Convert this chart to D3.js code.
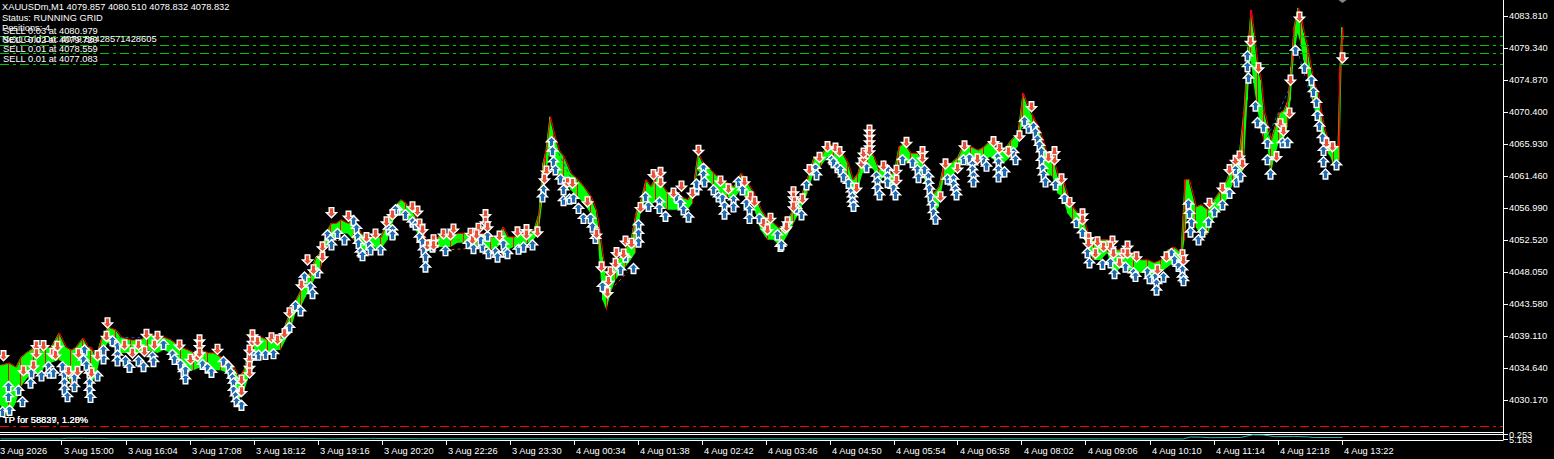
<!DOCTYPE html>
<html>
<head>
<meta charset="utf-8">
<script src="https://cdn.jsdelivr.net/npm/d3@7/dist/d3.min.js"></script>
<style>
body { margin: 0; background: #000; overflow: hidden; }
text { font-family: "Liberation Sans", Arial, sans-serif; font-size: 9.3px; fill: #fff; }
</style>
</head>
<body>
<div class="canvas"></div>
<script>
var width = 1554, height = 459;

// bar index, high, low (M1 bars, sampled)
var candles = [
[0,4035.0,4029.4],[8,4035.3,4027.7],[15,4034.7,4029.7],[20,4036.1,4031.9],[25,4036.7,4032.9],[33,4037.5,4034.3],[40,4037.1,4033.3],[45,4037.5,4035.3],[50,4037.5,4035.3],[58,4039.5,4035.7],
[65,4037.5,4035.3],[70,4037.1,4031.9],[75,4037.5,4034.3],[82,4038.8,4035.3],[87,4037.5,4033.3],[90,4037.5,4032.5],[95,4036.1,4033.3],[100,4038.5,4036.1],[107,4040.3,4038.1],[115,4039.9,4037.5],
[120,4038.9,4036.7],[130,4038.5,4036.7],[140,4038.5,4036.7],[147,4039.5,4037.1],[157,4038.9,4036.7],[163,4038.9,4037.1],[170,4038.5,4036.7],[180,4037.5,4035.3],[187,4037.1,4034.3],[193,4036.7,4034.3],
[200,4037.1,4034.7],[207,4036.7,4034.7],[213,4036.7,4034.3],[220,4036.1,4034.3],[227,4035.7,4033.9],[233,4034.7,4031.5],[238,4033.3,4030.1],[243,4034.3,4031.1],[248,4037.1,4033.3],[253,4038.9,4035.7],
[260,4038.9,4036.7],[267,4038.5,4036.7],[273,4038.5,4037.1],[280,4038.9,4037.1],[285,4040.9,4038.5],[290,4042.7,4039.9],[295,4044.1,4042.3],[300,4045.5,4043.1],[305,4046.9,4044.5],[310,4048.3,4045.9],
[315,4050.1,4047.3],[320,4050.7,4048.3],[325,4053.4,4051.5],[330,4054.8,4052.5],[335,4054.8,4052.9],[340,4055.3,4053.4],[347,4054.8,4053.4],[353,4055.3,4052.5],[360,4053.4,4051.1],[367,4052.9,4051.1],
[373,4052.9,4051.5],[380,4052.9,4051.1],[387,4055.3,4052.5],[393,4057.1,4055.3],[400,4058.1,4056.2],[405,4057.6,4056.2],[410,4056.7,4054.8],[415,4055.7,4053.9],[420,4054.3,4052.5],[425,4052.5,4050.7],
[430,4052.5,4051.1],[437,4052.9,4051.5],[443,4053.4,4051.5],[450,4052.9,4051.5],[457,4053.4,4052.1],[463,4053.4,4052.1],[470,4052.9,4051.5],[477,4053.4,4051.5],[483,4053.4,4051.5],[490,4052.9,4051.1],
[497,4052.9,4051.5],[502,4054.3,4052.1],[507,4052.9,4051.1],[513,4052.9,4051.5],[520,4053.4,4051.5],[527,4053.4,4052.1],[533,4053.9,4052.5],[538,4056.2,4053.4],[542,4063.2,4058.1],[545,4065.0,4060.9],
[549,4069.7,4065.0],[553,4067.4,4062.7],[558,4065.0,4061.8],[563,4064.1,4061.3],[570,4061.8,4059.5],[577,4060.9,4058.5],[583,4059.9,4057.6],[590,4058.5,4056.2],[595,4056.7,4053.9],[598,4054.3,4051.1],
[602,4050.1,4044.1],[606,4046.9,4042.7],[610,4047.9,4045.1],[615,4049.7,4046.9],[620,4050.1,4047.9],[625,4051.5,4048.7],[630,4052.5,4049.7],[635,4056.2,4050.7],[640,4058.1,4056.2],[645,4060.9,4058.1],
[650,4059.9,4057.1],[655,4061.3,4058.1],[660,4060.4,4057.6],[667,4059.0,4056.7],[673,4059.5,4056.7],[680,4058.5,4056.7],[687,4058.1,4056.7],[692,4059.5,4057.6],[697,4064.6,4062.3],[702,4063.2,4061.3],
[707,4062.7,4060.9],[713,4061.8,4059.9],[720,4060.9,4059.0],[727,4060.4,4058.5],[733,4059.9,4058.1],[740,4061.8,4059.5],[747,4060.4,4058.1],[753,4059.0,4057.1],[760,4056.7,4053.9],[767,4055.3,4052.5],
[773,4054.8,4052.5],[780,4053.9,4051.5],[787,4055.3,4053.2],[793,4057.1,4054.8],[800,4058.5,4056.7],[807,4061.3,4059.0],[813,4064.1,4061.8],[820,4064.1,4062.7],[827,4066.0,4064.1],[833,4065.5,4063.6],
[840,4065.0,4063.2],[847,4063.2,4060.9],[852,4060.9,4057.6],[857,4061.8,4059.5],[862,4064.6,4061.8],[867,4065.5,4063.2],[873,4064.1,4062.3],[878,4062.3,4060.4],[883,4063.6,4061.3],[888,4061.8,4059.9],
[893,4061.8,4059.9],[898,4065.5,4063.2],[903,4066.0,4063.6],[910,4064.6,4063.2],[917,4064.6,4062.7],[923,4063.2,4061.3],[928,4060.9,4059.0],[933,4059.0,4056.2],[938,4059.9,4057.1],[943,4063.2,4060.9],
[950,4063.2,4061.3],[957,4064.1,4062.3],[963,4066.0,4063.6],[970,4065.5,4063.6],[977,4065.0,4063.2],[983,4065.5,4063.6],[990,4066.4,4064.1],[997,4065.0,4063.2],[1003,4065.0,4063.2],[1010,4066.4,4064.1],
[1017,4067.4,4065.5],[1022,4073.0,4068.8],[1027,4071.1,4068.8],[1032,4069.7,4067.8],[1037,4068.3,4066.0],[1042,4066.4,4064.1],[1047,4064.1,4061.8],[1052,4064.1,4061.3],[1057,4061.3,4059.0],[1062,4060.9,4058.5],
[1067,4058.5,4056.2],[1072,4057.1,4055.3],[1077,4056.2,4054.3],[1082,4055.7,4053.4],[1087,4053.4,4051.1],[1093,4052.5,4049.7],[1100,4052.5,4049.7],[1107,4052.5,4050.7],[1113,4051.1,4047.3],[1120,4051.1,4048.7],
[1127,4050.7,4048.3],[1133,4050.7,4048.3],[1140,4049.7,4047.9],[1147,4049.7,4047.9],[1153,4049.3,4047.3],[1160,4049.7,4047.9],[1167,4051.1,4048.7],[1173,4051.5,4049.3],[1180,4050.7,4048.7],[1184,4060.9,4052.5],
[1188,4060.9,4057.6],[1195,4057.1,4054.3],[1200,4057.4,4053.2],[1207,4056.7,4053.2],[1213,4058.1,4055.5],[1220,4059.5,4056.7],[1226,4060.9,4058.1],[1232,4063.6,4060.2],[1238,4064.1,4061.3],[1243,4070.6,4062.3],
[1247,4079.4,4072.0],[1250,4084.6,4078.0],[1253,4081.4,4074.4],[1257,4076.6,4070.6],[1260,4074.8,4068.3],[1263,4070.6,4066.4],[1267,4068.3,4065.5],[1270,4066.4,4061.3],[1273,4067.8,4063.6],[1278,4070.2,4066.0],
[1283,4070.6,4066.4],[1287,4072.0,4068.3],[1290,4076.6,4072.0],[1293,4082.2,4077.6],[1297,4084.9,4081.4],[1300,4083.6,4080.0],[1303,4081.4,4077.6],[1307,4079.0,4075.2],[1310,4076.6,4073.4],[1313,4074.4,4071.1],
[1317,4073.0,4069.2],[1320,4070.6,4067.4],[1323,4068.3,4066.0],[1327,4066.4,4064.6],[1330,4065.5,4064.1],[1333,4066.0,4062.7],[1337,4065.5,4063.6],[1339,4076.6,4063.6],[1341,4082.2,4077.0],[1342,4080.5,4078.8]
];

// trade arrows: [bar, price]
var sells = [
[3,4036.3],[23,4034.2],[33,4034.9],[36,4037.7],[36,4036.6],[43,4037.7],[52,4036.6],[55,4036.4],[57,4037.6],[68,4034.1],
[77,4034.1],[78,4036.6],[91,4033.9],[97,4036.3],[107,4040.9],[106,4039.0],[124,4037.8],[132,4036.7],[138,4037.8],[144,4036.9],
[146,4039.3],[154,4037.8],[157,4039.0],[179,4037.8],[190,4035.8],[197,4036.2],[199,4038.5],[199,4037.7],[199,4036.7],[217,4037.2],
[241,4032.9],[241,4031.3],[249,4035.9],[249,4034.8],[249,4033.9],[249,4037.1],[252,4039.2],[252,4038.3],[257,4038.3],[271,4038.8],
[277,4038.5],[284,4039.4],[289,4042.3],[301,4046.2],[307,4049.7],[313,4048.3],[322,4050.1],[322,4051.5],[331,4056.3],[348,4055.8],
[366,4052.8],[375,4053.3],[386,4055.0],[392,4056.0],[412,4057.1],[417,4056.5],[419,4054.7],[422,4053.9],[427,4051.7],[433,4052.5],
[433,4051.7],[443,4053.3],[450,4053.2],[453,4054.0],[470,4053.4],[478,4054.1],[485,4056.0],[485,4055.0],[487,4054.3],[472,4052.5],
[476,4053.2],[499,4053.0],[517,4053.6],[526,4053.9],[526,4053.2],[537,4053.6],[546,4062.1],[544,4061.0],[567,4060.5],[572,4060.4],
[587,4057.8],[596,4053.3],[601,4048.7],[608,4046.7],[607,4045.1],[610,4048.0],[615,4049.2],[616,4050.7],[623,4050.5],[625,4052.3],
[631,4052.0],[640,4057.0],[653,4061.6],[660,4061.9],[660,4060.5],[673,4059.0],[681,4060.0],[692,4059.0],[698,4065.0],[720,4060.7],
[728,4059.6],[744,4060.6],[750,4058.5],[754,4057.8],[763,4054.8],[770,4055.5],[767,4053.9],[787,4055.0],[785,4054.1],[786,4054.3],
[793,4059.2],[793,4058.5],[794,4057.8],[793,4057.1],[802,4058.2],[809,4062.3],[819,4064.0],[827,4065.5],[835,4065.3],[839,4064.8],
[856,4059.7],[861,4063.2],[863,4063.9],[863,4064.6],[869,4067.8],[869,4067.1],[869,4066.3],[869,4065.6],[869,4064.9],[883,4062.8],
[896,4062.2],[896,4060.8],[906,4066.1],[922,4064.8],[922,4063.9],[940,4058.5],[945,4063.1],[957,4062.5],[964,4065.6],[977,4063.8],
[993,4066.2],[999,4065.3],[1008,4064.8],[1019,4067.0],[1031,4071.1],[1054,4064.8],[1054,4063.7],[1048,4064.0],[1061,4061.0],[1069,4057.7],
[1082,4056.1],[1082,4055.3],[1088,4052.8],[1088,4052.0],[1097,4052.2],[1103,4051.5],[1112,4052.3],[1110,4051.5],[1095,4050.6],[1113,4050.6],
[1119,4049.3],[1123,4050.6],[1127,4051.6],[1127,4050.6],[1136,4050.1],[1157,4048.3],[1166,4050.1],[1182,4050.4],[1183,4049.6],[1209,4057.6],
[1222,4059.7],[1229,4062.3],[1235,4063.6],[1239,4064.2],[1242,4063.1],[1250,4080.2],[1258,4076.5],[1276,4064.1],[1280,4068.7],[1283,4067.7],
[1289,4070.2],[1290,4074.8],[1299,4083.6],[1326,4066.0],[1332,4065.5],[1342,4077.9]
];
var buys = [
[2,4028.5],[9,4028.7],[8,4030.6],[8,4032.0],[18,4031.5],[22,4029.9],[30,4032.5],[31,4033.9],[41,4033.5],[48,4034.8],
[49,4033.9],[53,4033.9],[62,4034.8],[64,4033.6],[64,4032.5],[64,4031.6],[67,4030.6],[74,4033.2],[74,4032.0],[84,4037.1],
[83,4035.7],[86,4035.0],[89,4033.9],[89,4032.5],[89,4031.5],[90,4030.5],[97,4033.5],[103,4035.9],[103,4037.1],[112,4038.4],
[117,4037.6],[117,4036.4],[117,4035.6],[125,4035.6],[129,4034.7],[138,4035.6],[143,4034.8],[152,4036.2],[153,4035.5],[163,4037.9],
[172,4036.5],[174,4035.8],[180,4035.1],[183,4034.1],[185,4033.1],[185,4034.3],[202,4035.1],[207,4034.6],[211,4034.0],[223,4035.5],
[228,4034.8],[230,4033.9],[232,4033.2],[233,4032.5],[233,4031.5],[235,4030.7],[236,4029.9],[241,4029.4],[253,4036.4],[258,4036.4],
[265,4036.5],[273,4036.6],[289,4040.3],[295,4043.3],[300,4042.6],[304,4047.3],[310,4045.9],[312,4045.0],[317,4047.9],[327,4053.2],
[330,4052.5],[331,4051.8],[337,4053.4],[344,4052.5],[353,4055.2],[356,4054.1],[357,4052.9],[358,4052.0],[360,4050.8],[362,4050.3],
[368,4051.8],[370,4051.1],[380,4051.1],[388,4054.0],[392,4053.3],[397,4056.7],[392,4053.9],[392,4053.2],[395,4056.7],[405,4056.0],
[412,4055.0],[415,4054.6],[419,4052.9],[422,4052.2],[423,4051.1],[425,4050.1],[425,4048.7],[432,4051.5],[445,4051.0],[468,4052.0],
[473,4051.3],[482,4051.5],[480,4052.5],[487,4053.0],[488,4050.6],[495,4050.8],[497,4050.1],[503,4051.9],[505,4050.8],[507,4050.6],
[518,4051.2],[523,4051.5],[532,4051.8],[543,4059.5],[542,4058.5],[551,4066.2],[552,4064.9],[553,4063.4],[555,4062.3],[560,4061.0],
[563,4059.5],[563,4058.0],[569,4058.2],[573,4058.3],[578,4056.9],[583,4055.5],[590,4055.5],[592,4054.3],[595,4052.7],[602,4046.0],
[620,4048.3],[625,4050.1],[633,4048.5],[638,4054.6],[638,4053.4],[638,4052.2],[645,4058.5],[648,4057.2],[659,4057.8],[659,4056.9],
[665,4055.8],[676,4058.5],[680,4057.6],[683,4056.7],[688,4055.7],[696,4059.5],[696,4060.3],[703,4062.5],[703,4061.6],[704,4060.6],
[713,4059.5],[718,4058.5],[722,4058.3],[724,4057.2],[724,4056.1],[733,4058.1],[733,4057.1],[738,4060.6],[742,4059.5],[746,4057.6],
[749,4056.7],[749,4055.5],[759,4055.5],[777,4053.2],[780,4051.6],[781,4051.8],[796,4056.9],[801,4056.0],[806,4060.2],[815,4062.5],
[816,4061.6],[831,4063.7],[833,4063.3],[837,4062.6],[840,4062.3],[843,4061.3],[848,4060.4],[851,4059.2],[852,4058.5],[852,4057.8],
[853,4057.2],[866,4062.6],[876,4061.4],[877,4060.6],[877,4059.7],[879,4058.8],[887,4062.3],[887,4061.3],[887,4060.5],[893,4059.7],
[895,4058.8],[902,4063.7],[912,4063.3],[917,4062.3],[918,4061.2],[924,4062.3],[928,4061.3],[928,4060.4],[929,4059.6],[930,4058.5],
[932,4057.4],[933,4056.3],[935,4055.4],[947,4061.0],[953,4061.0],[953,4060.2],[955,4059.5],[956,4058.8],[963,4063.7],[969,4063.9],
[972,4063.0],[972,4062.3],[973,4061.4],[973,4060.6],[983,4063.7],[986,4062.8],[997,4064.0],[998,4063.3],[998,4062.3],[998,4061.3],
[1004,4062.0],[1013,4064.7],[1015,4063.7],[1024,4069.1],[1028,4068.1],[1033,4068.3],[1035,4067.5],[1037,4066.5],[1039,4065.7],[1041,4064.8],
[1041,4063.6],[1042,4062.5],[1043,4061.6],[1045,4060.6],[1055,4060.2],[1064,4058.3],[1076,4054.9],[1082,4053.5],[1087,4050.7],[1089,4049.3],
[1102,4049.1],[1110,4049.3],[1114,4047.8],[1125,4048.7],[1133,4047.9],[1135,4047.4],[1147,4048.0],[1149,4047.1],[1155,4047.3],[1156,4046.4],
[1156,4045.5],[1163,4047.3],[1171,4050.6],[1174,4049.7],[1178,4048.8],[1182,4048.3],[1182,4047.3],[1183,4046.8],[1188,4057.5],[1189,4056.2],
[1191,4054.9],[1190,4053.6],[1198,4052.5],[1202,4053.6],[1208,4055.0],[1214,4056.4],[1222,4057.4],[1229,4059.0],[1236,4060.6],[1235,4062.3],
[1240,4061.4],[1247,4078.2],[1247,4076.7],[1248,4075.1],[1255,4071.2],[1257,4068.9],[1263,4068.2],[1267,4066.0],[1267,4063.7],[1270,4061.7],
[1282,4066.1],[1287,4066.1],[1295,4079.0],[1304,4076.5],[1311,4074.8],[1313,4073.2],[1316,4071.7],[1317,4069.9],[1319,4068.4],[1322,4066.8],
[1323,4065.0],[1323,4063.4],[1325,4061.7],[1336,4063.0]
];

// closed-trade connectors: [bar1, price1, bar2, price2, side]
var tradeLines = [
[113,4038.9,145,4038.8,"buy"],[433,4051.0,470,4051.3,"sell"],[450,4052.5,468,4052.5,"sell"],
[558,4064.6,570,4061.3,"buy"],[610,4045.5,627,4048.0,"sell"],[1267,4066.9,1288,4073.4,"buy"],[1297,4079.0,1320,4067.8,"buy"]
];

// open grid positions
var posLots = ["0.03", "0.02", "0.01", "0.01"];
var posPrices = [4080.979, 4079.720, 4078.559, 4077.083];
var tpPrice = 4026.5;

var priceTicks = [4083.810, 4079.340, 4074.870, 4070.400, 4065.930, 4061.460, 4056.990, 4052.520, 4048.050, 4043.580, 4039.110, 4034.640, 4030.170];
var timeTickBars = [-3, 61, 125, 189, 253, 317, 381, 445, 509, 573, 637, 701, 765, 829, 893, 957, 1021, 1085, 1149, 1213, 1277, 1341];
var timeLabels = ["3 Aug 2026", "3 Aug 15:00", "3 Aug 16:04", "3 Aug 17:08", "3 Aug 18:12", "3 Aug 19:16", "3 Aug 20:20", "3 Aug 22:26",
	"3 Aug 23:30", "4 Aug 00:34", "4 Aug 01:38", "4 Aug 02:42", "4 Aug 03:46", "4 Aug 04:50", "4 Aug 05:54", "4 Aug 06:58",
	"4 Aug 08:02", "4 Aug 09:06", "4 Aug 10:10", "4 Aug 11:14", "4 Aug 12:18", "4 Aug 13:22"];

// sub-window indicator
var subBars = [0, 60, 67, 83, 87, 100, 110, 200, 250, 300, 330, 370, 420, 540, 600, 700, 760, 900, 1000, 1100, 1183, 1190, 1200, 1210, 1240, 1252, 1263, 1275, 1293, 1307, 1313, 1342];
var subVals = [0.4, 0.4, 1.0, 1.0, 0.8, 0.9, 0.4, 0.4, 0.9, 0.9, 0.5, 0.9, 0.5, 0.6, 0.5, 0.6, 0.5, 0.4, 0.5, 0.4, 0.3, 2.2, 2.0, 1.5, 1.7, 4.2, 4.0, 2.5, 2.7, 2.3, 1.7, 1.7];

var infoLines = ["XAUUSDm,M1  4079.857 4080.510 4078.832 4078.832", "Status: RUNNING GRID", "Positions: 4", "Next Grid Dn: 4079.86428571428605"];

var axisX = 1503;
var x = d3.scaleLinear().domain([0, axisX]).range([0.5, axisX + 0.5]);
var y = d3.scaleLinear().domain([4030.170, 4083.810]).range([399.7, 15.7]);
var ySub = d3.scaleLinear().domain([0, 5]).range([439.3, 434]);

var svg = d3.select(".canvas").append("svg")
	.attr("width", width)
	.attr("height", height)
	.style("display", "block")
	.style("background", "#000");

var plot = svg.append("g");

// price band
plot.append("path")
	.datum(candles)
	.attr("d", d3.area()
		.x(function(d) { return x(d[0]); })
		.y0(function(d) { return y(d[2]); })
		.y1(function(d) { return y(d[1]); }))
	.style("fill", "#00ff00");

plot.selectAll(".wick").data(candles)
	.enter().append("line")
	.attr("class", "wick")
	.attr("x1", function(d) { return x(d[0]); })
	.attr("x2", function(d) { return x(d[0]); })
	.attr("y1", function(d) { return y(d[1]); })
	.attr("y2", function(d) { return y(d[2]); })
	.style("stroke", function(d, i) { return i % 2 ? "#ff0000" : "#00ff00"; })
	.style("stroke-width", 1);

plot.append("path")
	.datum(candles)
	.attr("d", d3.line()
		.x(function(d) { return x(d[0]) + 1; })
		.y(function(d) { return y(d[1]); }))
	.style("fill", "none")
	.style("stroke", "#ff0000")
	.style("stroke-width", 1);

// trade connectors
plot.selectAll(".trade").data(tradeLines)
	.enter().append("line")
	.attr("class", "trade")
	.attr("x1", function(d) { return x(d[0]); })
	.attr("y1", function(d) { return y(d[1]); })
	.attr("x2", function(d) { return x(d[2]); })
	.attr("y2", function(d) { return y(d[3]); })
	.style("stroke", function(d) { return d[4] === "buy" ? "#1860a8" : "#e05030"; })
	.style("stroke-dasharray", "3,3")
	.style("stroke-width", 1);

// grid position lines
plot.selectAll(".pos").data(posPrices)
	.enter().append("line")
	.attr("class", "pos")
	.attr("x1", 0).attr("x2", axisX)
	.attr("y1", function(d) { return Math.round(y(d)) + 0.5; })
	.attr("y2", function(d) { return Math.round(y(d)) + 0.5; })
	.style("stroke", "#00c800")
	.style("stroke-dasharray", "9,4,3,4");

plot.append("line")
	.attr("x1", 0).attr("x2", axisX)
	.attr("y1", Math.round(y(tpPrice)) + 0.5)
	.attr("y2", Math.round(y(tpPrice)) + 0.5)
	.style("stroke", "#ff0000")
	.style("stroke-dasharray", "9,4,3,4");

// arrows
var upArrow = "M0,-5 L5,0 L2.3,0 L2.3,5 L-2.3,5 L-2.3,0 L-5,0 Z";
var downArrow = "M0,5 L5,0 L2.3,0 L2.3,-5 L-2.3,-5 L-2.3,0 L-5,0 Z";

plot.selectAll(".buy").data(buys)
	.enter().append("path")
	.attr("class", "buy")
	.attr("transform", function(d) { return "translate(" + x(d[0]) + "," + y(d[1]) + ")"; })
	.attr("d", upArrow)
	.style("fill", "#1e6cb4")
	.style("stroke", "#fff")
	.style("stroke-width", 1.4)
	.style("stroke-linejoin", "miter");

plot.selectAll(".sell").data(sells)
	.enter().append("path")
	.attr("class", "sell")
	.attr("transform", function(d) { return "translate(" + x(d[0]) + "," + y(d[1]) + ")"; })
	.attr("d", downArrow)
	.style("fill", "#ea5035")
	.style("stroke", "#fff")
	.style("stroke-width", 1.4)
	.style("stroke-linejoin", "miter");

// last price marker at top
svg.append("path")
	.attr("d", "M" + (x(1342) - 4) + ",0 L" + (x(1342) + 4) + ",0 L" + x(1342) + ",3 Z")
	.style("fill", "#7f8a96");

// frame
svg.append("line").attr("x1", axisX + 0.5).attr("x2", axisX + 0.5).attr("y1", 0).attr("y2", 440.5)
	.style("stroke", "#fff");
[432.5, 434.5, 440.5].forEach(function(v) {
	svg.append("line").attr("x1", 0).attr("x2", axisX).attr("y1", v).attr("y2", v).style("stroke", "#fff");
});

// sub-window indicator
svg.append("path")
	.datum(subBars)
	.attr("d", d3.line()
		.x(function(d) { return x(d); })
		.y(function(d, i) { return ySub(subVals[i]); }))
	.style("fill", "none")
	.style("stroke", "#20b2aa")
	.style("stroke-width", 1);

// price axis
var pa = svg.append("g");
pa.selectAll(".ptick").data(priceTicks)
	.enter().append("line")
	.attr("class", "ptick")
	.attr("x1", axisX).attr("x2", axisX + 5)
	.attr("y1", function(d) { return Math.round(y(d)) + 0.5; })
	.attr("y2", function(d) { return Math.round(y(d)) + 0.5; })
	.style("stroke", "#fff");
pa.selectAll(".plabel").data(priceTicks)
	.enter().append("text")
	.attr("class", "plabel")
	.attr("x", axisX + 6)
	.attr("y", function(d) { return y(d) + 3.5; })
	.text(function(d) { return d.toFixed(3); });

var subTicks = [["0.253", 434.5], ["5.163", 439.5]];
subTicks.forEach(function(t) {
	pa.append("line").attr("x1", axisX).attr("x2", axisX + 5).attr("y1", t[1]).attr("y2", t[1]).style("stroke", "#fff");
	pa.append("text").attr("x", axisX + 6).attr("y", t[1] + 3.5).text(t[0]);
});

// time axis
var ta = svg.append("g");
ta.selectAll(".ttick").data(timeTickBars)
	.enter().append("line")
	.attr("class", "ttick")
	.attr("x1", function(d) { return Math.round(x(d)) + 0.5; })
	.attr("x2", function(d) { return Math.round(x(d)) + 0.5; })
	.attr("y1", 440).attr("y2", 445)
	.style("stroke", "#fff");
ta.selectAll(".tlabel").data(timeTickBars)
	.enter().append("text")
	.attr("class", "tlabel")
	.attr("x", function(d) { return x(d) + 2.5; })
	.attr("y", 453.5)
	.text(function(d, i) { return timeLabels[i]; });

// info text
var info = svg.append("g");
var infoY = [9.5, 20.5, 30.5, 42];
info.selectAll(".info").data(infoLines)
	.enter().append("text")
	.attr("class", "info")
	.attr("x", 2)
	.attr("y", function(d, i) { return infoY[i]; })
	.text(function(d) { return d; });
info.selectAll(".poslabel").data(posPrices)
	.enter().append("text")
	.attr("class", "poslabel")
	.attr("x", 3)
	.attr("y", function(d) { return y(d) - 1.5; })
	.text(function(d, i) { return "SELL " + posLots[i] + " at " + d.toFixed(3); });

info.append("text").attr("x", 3).attr("y", y(tpPrice) - 2.5).text("TP for 58829, 1.28%");
info.append("text").attr("x", 3).attr("y", y(tpPrice) - 2.5).text("TP for 58837, 1.20%");
</script>
</body>
</html>
